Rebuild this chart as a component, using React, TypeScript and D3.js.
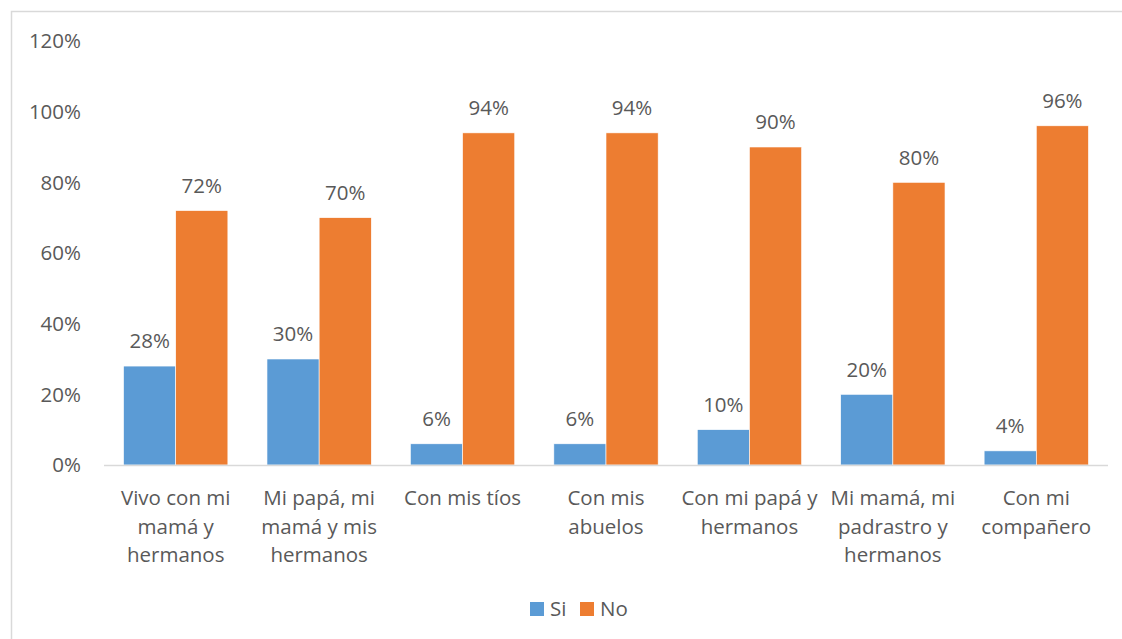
import React from "react";
import * as d3 from "d3";

const categories: string[][] = [
  ["Vivo con mi", "mamá y", "hermanos"],
  ["Mi papá, mi", "mamá y mis", "hermanos"],
  ["Con mis tíos"],
  ["Con mis", "abuelos"],
  ["Con mi papá y", "hermanos"],
  ["Mi mamá, mi", "padrastro y", "hermanos"],
  ["Con mi", "compañero"],
];
const siValues = [28, 30, 6, 6, 10, 20, 4];
const noValues = [72, 70, 94, 94, 90, 80, 96];
const seriesNames = ["Si", "No"];
const yTicks = [0, 20, 40, 60, 80, 100, 120];

const COLORS = ["#5B9BD5", "#ED7D31"];
const TEXT = "#595959";
const FONT = "'Open Sans', sans-serif";
const FS = 20.5;

export default function App() {
  const W = 1122, H = 639;
  const left = 104, right = 1108, top = 41, bottom = 465;
  const idx = categories.map((_, i) => String(i));
  const x0 = d3.scaleBand().domain(idx).range([left, right]).paddingInner(0).paddingOuter(0);
  const step = x0.step();
  const gap = step * (75 / 275);
  const x1 = d3.scaleBand().domain(seriesNames).range([gap / 2, step - gap / 2]).padding(0);
  const y = d3.scaleLinear().domain([0, 120]).range([bottom, top]);
  const series = [siValues, noValues];

  return (
    <svg width={W} height={H} style={{ position: "absolute", left: 0, top: 0, background: "#fff" }} fontFamily={FONT}>
      <rect x={11.5} y={11.5} width={1120} height={640} fill="#fff" stroke="#D9D9D9" strokeWidth={1.5} />
      {yTicks.map((t) => (
        <text key={t} x={81} y={y(t)} dy="0.35em" textAnchor="end" fontSize={FS} fill={TEXT}>
          {t}%
        </text>
      ))}
      {categories.map((_, i) =>
        series.map((vals, s) => {
          const bx = (x0(String(i)) as number) + (x1(seriesNames[s]) as number);
          const bw = x1.bandwidth();
          const v = vals[i];
          return (
            <g key={`${i}-${s}`}>
              <rect x={bx} y={y(v)} width={bw} height={y(0) - y(v)} fill={COLORS[s]} stroke="#fff" strokeWidth={0.6} />
              <text x={bx + bw / 2} y={y(v) - 25} dy="0.35em" textAnchor="middle" fontSize={FS} fill={TEXT}>
                {v}%
              </text>
            </g>
          );
        })
      )}
      <line x1={left} x2={right} y1={bottom + 0.5} y2={bottom + 0.5} stroke="#D9D9D9" strokeWidth={1.5} />
      {categories.map((lines, i) => (
        <text key={i} textAnchor="middle" fontSize={FS} fill={TEXT}>
          {lines.map((l, j) => (
            <tspan key={j} x={(x0(String(i)) as number) + step / 2} y={498 + j * 28.5} dy="0.35em">
              {l}
            </tspan>
          ))}
        </text>
      ))}
      <g>
        <rect x={530} y={602} width={14} height={14} fill={COLORS[0]} />
        <text x={550} y={609} dy="0.35em" fontSize={FS} fill={TEXT}>{seriesNames[0]}</text>
        <rect x={580} y={602} width={14} height={14} fill={COLORS[1]} />
        <text x={600} y={609} dy="0.35em" fontSize={FS} fill={TEXT}>{seriesNames[1]}</text>
      </g>
    </svg>
  );
}
